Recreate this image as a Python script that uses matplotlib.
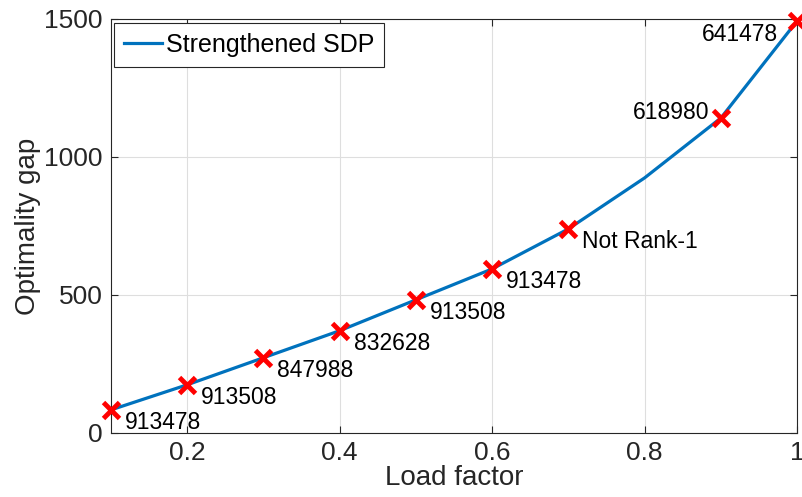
import matplotlib
matplotlib.use("Agg")
import matplotlib.pyplot as plt

# data
load_factor = [0.1, 0.2, 0.3, 0.4, 0.5, 0.6, 0.7, 0.8, 0.9, 1.0]
opt_gap = [83, 174, 272, 370, 482, 594, 739, 924, 1141, 1493]
marked_x = [0.1, 0.2, 0.3, 0.4, 0.5, 0.6, 0.7, 0.9, 1.0]
marked_y = [83, 174, 272, 370, 482, 594, 739, 1141, 1493]
point_labels = ["913478", "913508", "847988", "832628", "913508",
                "913478", "Not Rank-1", "618980", "641478"]

plt.rcParams['font.family'] = ['Liberation Sans', 'DejaVu Sans']

fig = plt.figure(figsize=(8.02, 4.97), dpi=100)
ax = fig.add_axes([0.138, 0.129, 0.856, 0.833])

ax.plot(load_factor, opt_gap, color='#0072BD', linewidth=2.3,
        label='Strengthened SDP', zorder=3, clip_on=False)
ax.plot(marked_x, marked_y, linestyle='none', marker='x', color='red',
        markersize=11, markeredgewidth=3.5, zorder=4, clip_on=False)

# labels: most sit below-right of the marker, the last two to the left
for x, y, s in zip(marked_x, marked_y, point_labels):
    if x == 1.0:
        off, ha = (-19, -14), 'right'
    elif x == 0.9:
        off, ha = (-12, 5), 'right'
    else:
        off, ha = (14, -13), 'left'
    ax.annotate(s, (x, y), xytext=off, textcoords='offset pixels',
                ha=ha, va='center', fontsize=16.5)

ax.set_xlim(0.1, 1.0)
ax.set_ylim(0, 1500)
ax.set_xticks([0.2, 0.4, 0.6, 0.8, 1.0])
ax.set_xticklabels(['0.2', '0.4', '0.6', '0.8', '1'])
ax.set_yticks([0, 500, 1000, 1500])
ax.set_xlabel('Load factor', fontsize=20, color='#262626', labelpad=0)
ax.set_ylabel('Optimality gap', fontsize=20, color='#262626', labelpad=2)
ax.tick_params(direction='in', labelsize=19, colors='#262626',
               top=True, right=True, length=5, pad=6)
ax.grid(True, color='#dedede', linewidth=0.8)
ax.set_axisbelow(True)
for sp in ax.spines.values():
    sp.set_color('#262626')
    sp.set_linewidth(0.8)

leg = ax.legend(loc='upper left', fontsize=18, fancybox=False,
                borderaxespad=0.15, handlelength=1.5, handletextpad=0.15,
                borderpad=0.4)
leg.get_frame().set_edgecolor('#262626')
leg.get_frame().set_linewidth(0.8)
leg.get_frame().set_alpha(1)

fig.savefig('out.png', dpi=100)
